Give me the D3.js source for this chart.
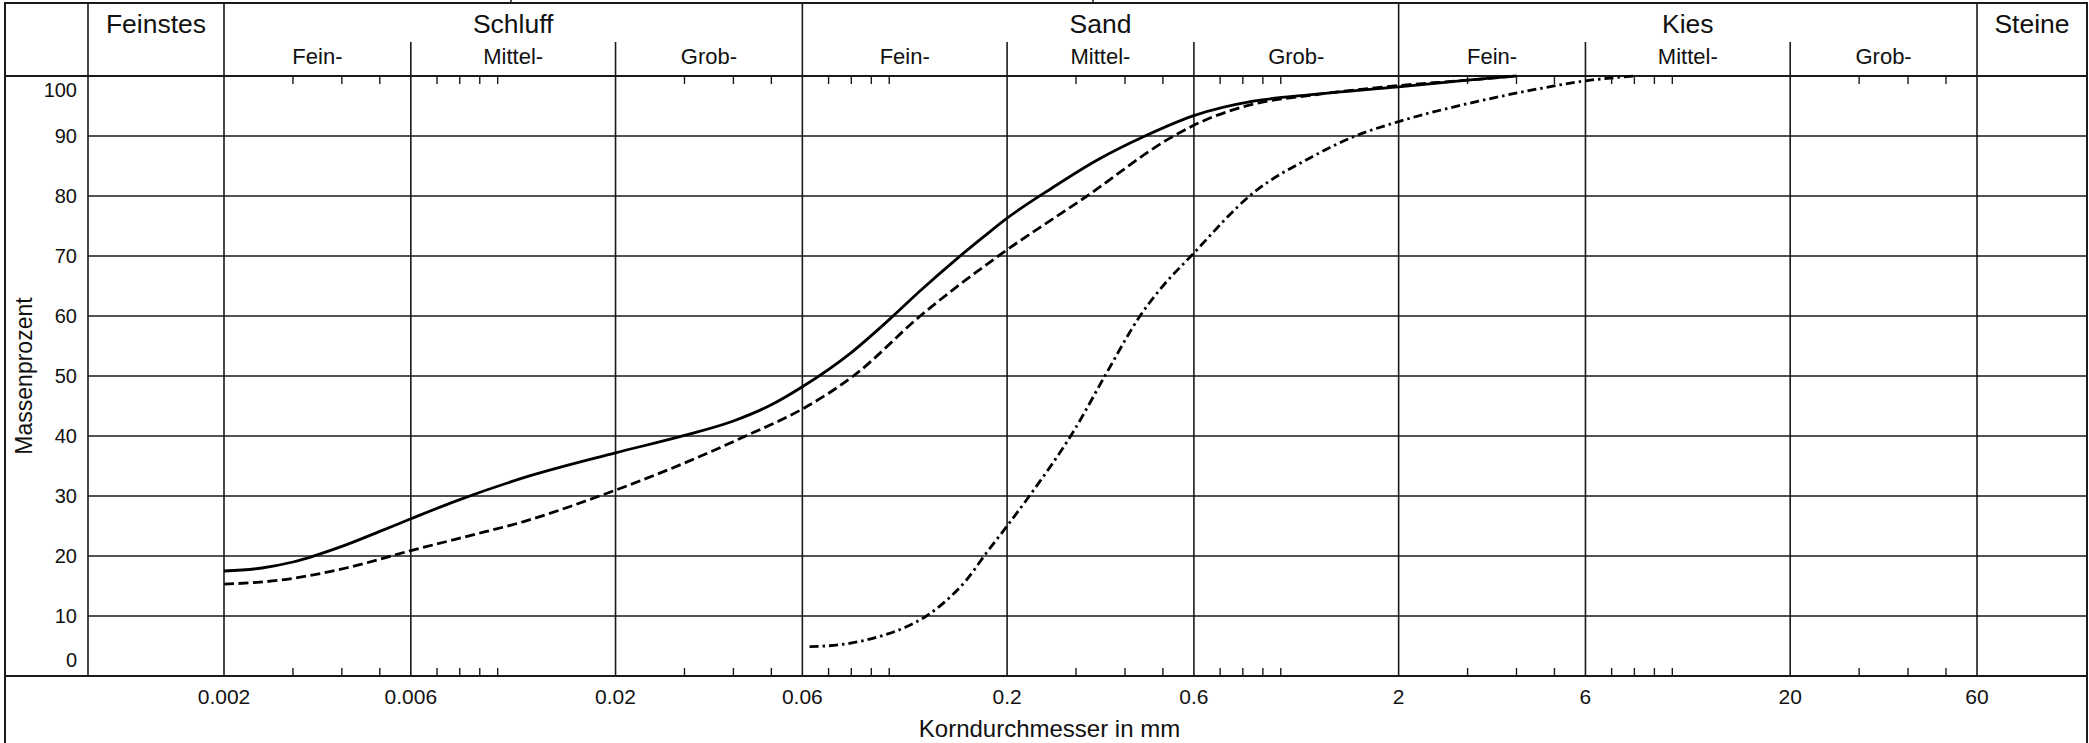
<!DOCTYPE html>
<html>
<head>
<meta charset="utf-8">
<script src="https://cdn.jsdelivr.net/npm/d3@7"></script>
<style>
	body { margin: 0; background: #fff; }
	text { font-family: "Liberation Sans", Arial, Helvetica, sans-serif; fill: #111; }
</style>
</head>
<body>
<svg id="chart" width="2089" height="743"></svg>
<script>

// Grain size distribution (Korndurchmesser in mm -> Massenprozent)
// Curve 1 (solid line):
var solidDiam = [0.002, 0.0025, 0.003, 0.004, 0.005, 0.006, 0.008, 0.012, 0.02, 0.03, 0.04, 0.05, 0.06, 0.08, 0.1, 0.12, 0.148, 0.175, 0.2, 0.26, 0.34, 0.45, 0.6, 0.85, 1.2, 2, 3, 4];
var solidPct  = [17.5, 18, 19, 21.6, 24.1, 26.2, 29.4, 33.3, 37.2, 40.1, 42.5, 45.2, 48.2, 53.9, 59.4, 64.2, 69.4, 73.3, 76.3, 81.3, 86, 90, 93.4, 95.8, 96.9, 98.2, 99.3, 100];

// Curve 2 (dashed line):
var dashDiam = [0.002, 0.0028, 0.0041, 0.006, 0.0085, 0.0116, 0.0182, 0.03, 0.043, 0.06, 0.081, 0.12, 0.19, 0.32, 0.52, 0.6, 0.85, 1.2, 2, 3, 4];
var dashPct  = [15.3, 16, 18, 20.9, 23.4, 25.7, 30, 35.5, 40, 44.5, 50, 60, 70, 80, 89.6, 91.8, 95.3, 96.8, 98.4, 99.3, 100];

// Curve 3 (dash-dot line):
var dotDiam = [0.0626, 0.0745, 0.0946, 0.1106, 0.1245, 0.14, 0.1575, 0.177, 0.2, 0.228, 0.297, 0.359, 0.437, 0.5, 0.59, 0.85, 1.2, 1.55, 2, 3.2, 4.5, 6, 8];
var dotPct  = [4.9, 5.2, 6.6, 8.2, 10, 12.6, 16, 20.5, 25, 30, 41, 50.5, 60, 65, 70, 80.5, 86.5, 90, 92.4, 95.8, 97.8, 99.2, 100];

// Header (soil fractions)
var fractionNames  = ["Feinstes", "Schluff", "Sand", "Kies", "Steine"];
var fractionBounds = [0.002, 0.06, 2, 60];
var subNames       = ["Fein-", "Mittel-", "Grob-"];
var subBounds      = [0.006, 0.02, 0.2, 0.6, 6, 20];

// Axes
var xTickValues = [0.002, 0.006, 0.02, 0.06, 0.2, 0.6, 2, 6, 20, 60];
var xTickLabels = ["0.002", "0.006", "0.02", "0.06", "0.2", "0.6", "2", "6", "20", "60"];
var minorMult   = [3, 4, 5, 7, 8, 9, 10];
var minorDecades = [0.001, 0.01, 0.1, 1, 10];
var yTickValues = [0, 10, 20, 30, 40, 50, 60, 70, 80, 90, 100];

var svg = d3.select("#chart");

// Page layout:
var frameLeft = 5, frameRight = 2087, frameTop = 3, frameBottom = 743;
var plotLeft = 88, plotTop = 76, plotBottom = 676, subTop = 42;

var x = d3.scaleLog().domain([0.002, 60]).range([224, 1977]);
var y = d3.scaleLinear().domain([0, 100]).range([plotBottom, plotTop]);

var ink = "#1a1a1a";

// Outer frame (no bottom edge, the picture is cut there):
svg.append("path")
	.attr("d", "M" + frameLeft + "," + frameBottom + "V" + frameTop + "H" + frameRight + "V" + frameBottom)
	.attr("fill", "none").attr("stroke", ink).attr("stroke-width", 2);

// Little marks above the frame (rest of an outer table):
svg.selectAll("line.outer")
	.data([511, 1093])
	.enter().append("line")
	.attr("x1", function(d) { return d; }).attr("x2", function(d) { return d; })
	.attr("y1", 0).attr("y2", frameTop)
	.attr("stroke", ink).attr("stroke-width", 1.5);

// Horizontal grid lines:
svg.selectAll("line.hgrid")
	.data(yTickValues.filter(function(v) { return v > 0 && v < 100; }))
	.enter().append("line")
	.attr("x1", plotLeft).attr("x2", frameRight)
	.attr("y1", function(d) { return y(d); }).attr("y2", function(d) { return y(d); })
	.attr("stroke", ink).attr("stroke-width", 1.4);

// 100 % line (also closes the header) and x axis line:
svg.selectAll("line.hmain")
	.data([100, 0])
	.enter().append("line")
	.attr("x1", frameLeft).attr("x2", frameRight)
	.attr("y1", function(d) { return y(d); }).attr("y2", function(d) { return y(d); })
	.attr("stroke", ink).attr("stroke-width", 2);

// Left edge of the plot:
svg.append("line")
	.attr("x1", plotLeft).attr("x2", plotLeft)
	.attr("y1", frameTop).attr("y2", plotBottom)
	.attr("stroke", ink).attr("stroke-width", 1.6);

// Fraction boundaries go through the header, sub boundaries start lower:
svg.selectAll("line.fraction")
	.data(fractionBounds)
	.enter().append("line")
	.attr("x1", function(d) { return x(d); }).attr("x2", function(d) { return x(d); })
	.attr("y1", frameTop).attr("y2", plotBottom)
	.attr("stroke", ink).attr("stroke-width", 1.6);

svg.selectAll("line.sub")
	.data(subBounds)
	.enter().append("line")
	.attr("x1", function(d) { return x(d); }).attr("x2", function(d) { return x(d); })
	.attr("y1", subTop).attr("y2", plotBottom)
	.attr("stroke", ink).attr("stroke-width", 1.6);

// Minor ticks, at the top (pointing down) and the bottom (pointing up):
var minorTicks = [];
minorDecades.forEach(function(b) {
	minorMult.forEach(function(m) {
		var v = +(b * m).toPrecision(3);
		if (v > 0.002 && v < 60) minorTicks.push(v);
	});
});

svg.selectAll("line.tickTop")
	.data(minorTicks)
	.enter().append("line")
	.attr("x1", function(d) { return x(d); }).attr("x2", function(d) { return x(d); })
	.attr("y1", plotTop).attr("y2", plotTop + 8)
	.attr("stroke", ink).attr("stroke-width", 1.4);

svg.selectAll("line.tickBottom")
	.data(minorTicks)
	.enter().append("line")
	.attr("x1", function(d) { return x(d); }).attr("x2", function(d) { return x(d); })
	.attr("y1", plotBottom - 8).attr("y2", plotBottom)
	.attr("stroke", ink).attr("stroke-width", 1.4);

// Header labels:
var colEdges = [plotLeft].concat(fractionBounds.map(function(d) { return x(d); })).concat([frameRight]);
svg.selectAll("text.fraction")
	.data(fractionNames)
	.enter().append("text")
	.attr("x", function(d, i) { return (colEdges[i] + colEdges[i + 1]) / 2; })
	.attr("y", 33)
	.attr("text-anchor", "middle")
	.style("font-size", "26.5px")
	.text(function(d) { return d; });

// Sub labels (Fein-, Mittel-, Grob-) for Schluff, Sand and Kies:
var subCols = [];
for (var k = 0; k < 3; k++) {
	var lo = fractionBounds[k], hi = fractionBounds[k + 1];
	var edges = [lo, subBounds[2 * k], subBounds[2 * k + 1], hi];
	subNames.forEach(function(name, j) {
		subCols.push({ name: name, cx: (x(edges[j]) + x(edges[j + 1])) / 2 });
	});
}
svg.selectAll("text.sub")
	.data(subCols)
	.enter().append("text")
	.attr("x", function(d) { return d.cx; })
	.attr("y", 64)
	.attr("text-anchor", "middle")
	.style("font-size", "22px")
	.text(function(d) { return d.name; });

// Y labels (100 sits below its line, 0 above its line):
svg.selectAll("text.ylab")
	.data(yTickValues)
	.enter().append("text")
	.attr("x", 77)
	.attr("y", function(d) {
		var off = d == 100 ? 14 : (d == 0 ? -16 : 0);
		return y(d) + off;
	})
	.attr("dy", "0.35em")
	.attr("text-anchor", "end")
	.style("font-size", "20px")
	.text(function(d) { return d; });

svg.append("text")
	.attr("transform", "translate(32," + (plotTop + plotBottom) / 2 + ")rotate(-90)")
	.attr("text-anchor", "middle")
	.style("font-size", "23px")
	.text("Massenprozent");

// X labels:
svg.selectAll("text.xlab")
	.data(xTickValues)
	.enter().append("text")
	.attr("x", function(d) { return x(d); })
	.attr("y", 704)
	.attr("text-anchor", "middle")
	.style("font-size", "21px")
	.text(function(d, i) { return xTickLabels[i]; });

svg.append("text")
	.attr("x", x(0.06) + (x(2) - x(0.06)) / 2 - 51)
	.attr("y", 737)
	.attr("text-anchor", "middle")
	.style("font-size", "24px")
	.text("Korndurchmesser in mm");

// The three curves:
var curves = [
	{ d: solidDiam, p: solidPct, dash: null },
	{ d: dashDiam,  p: dashPct,  dash: "10,4.5" },
	{ d: dotDiam,   p: dotPct,   dash: "9,4,2.5,4" }
];

var line = d3.line()
	.x(function(d) { return x(d[0]); })
	.y(function(d) { return y(d[1]); })
	.curve(d3.curveMonotoneX);

svg.selectAll("path.curve")
	.data(curves)
	.enter().append("path")
	.attr("d", function(c) { return line(d3.zip(c.d, c.p)); })
	.attr("fill", "none")
	.attr("stroke", "#000")
	.attr("stroke-width", 2.8)
	.attr("stroke-dasharray", function(c) { return c.dash; });

</script>
</body>
</html>
